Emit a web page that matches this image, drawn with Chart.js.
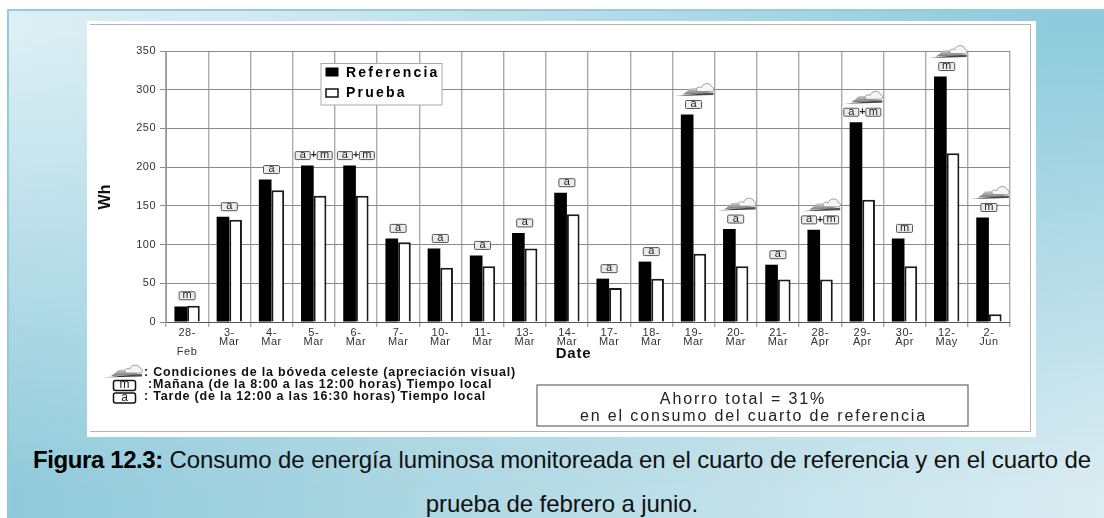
<!DOCTYPE html>
<html>
<head>
<meta charset="utf-8">
<script src="https://cdn.jsdelivr.net/npm/chart.js@4"></script>
<style>
  html, body { margin: 0; padding: 0; background: #fff; }
  body { position: relative; width: 1104px; height: 518px; overflow: hidden; font-family: "Liberation Sans", Arial, sans-serif; }
  .bg { position: absolute; left: 7px; top: 9px; right: 0; bottom: 0; }
  .bg.bottom { background: linear-gradient(to right, #8fcadb, #a6d4e1 30%, #dcedf3); }
  .bg.top { background: linear-gradient(to right, #dcEff4, #d4eaf1 20%, #8fcbdc 95%);
    -webkit-mask-image: linear-gradient(to bottom, #000 5%, transparent 95%); mask-image: linear-gradient(to bottom, #000 5%, transparent 95%); }
  .edge { position: absolute; left: 7px; top: 9px; right: 0; bottom: 0; border-top: 2px solid #93cdd9; border-left: 2px solid #93cdd9; }
  .panel { position: absolute; left: 87px; top: 21px; width: 946px; height: 413px; background: #fff; box-sizing: border-box; border: 3px solid #fff; }
  .panel::after { content: ""; position: absolute; left: -1px; top: 0; right: -1px; bottom: -1px; border: 1.5px solid #b4b4b4; }
  canvas { position: absolute; left: 0; top: 0; filter: blur(0.4px); }
  .caption { position: absolute; left: 7px; width: 1110px; text-align: center; font-size: 24px; line-height: 28px; color: #111; white-space: nowrap; letter-spacing: -0.1px; }
  .caption b { color: #000; letter-spacing: -0.4px; }
</style>
</head>
<body>
<div class="bg bottom"></div>
<div class="bg top"></div>
<div class="edge"></div>
<div class="panel"></div>
<div style="position:absolute;left:87px;top:21px;width:949px;height:416px;box-sizing:border-box;border:3px solid #fff;"></div>
<canvas id="consumoChart" width="1104" height="440"></canvas>
<div class="caption" style="top:446px"><b>Figura 12.3:</b> Consumo de energía luminosa monitoreada en el cuarto de referencia y en el cuarto de</div>
<div class="caption" style="top:490px">prueba de febrero a junio.</div>

<script>
const fechas = [["28-", " ", "Feb"], ["3-", "Mar"], ["4-", "Mar"], ["5-", "Mar"], ["6-", "Mar"], ["7-", "Mar"], ["10-", "Mar"],
  ["11-", "Mar"], ["13-", "Mar"], ["14-", "Mar"], ["17-", "Mar"], ["18-", "Mar"], ["19-", "Mar"], ["20-", "Mar"],
  ["21-", "Mar"], ["28-", "Apr"], ["29-", "Apr"], ["30-", "Apr"], ["12-", "May"], ["2-", "Jun"]];
const referencia = [20, 136, 184, 202, 202, 108, 95, 86, 115, 167, 56, 78, 268, 120, 74, 119, 258, 108, 317, 135];
const prueba = [21, 132, 170, 163, 163, 103, 70, 72, 95, 139, 44, 56, 88, 72, 55, 55, 158, 72, 218, 10];
const periodos = ["m", "a", "a", "a+m", "a+m", "a", "a", "a", "a", "a", "a", "a", "a", "a", "a", "a+m", "a+m", "m", "m", "m"];
const nublado = [0, 0, 0, 0, 0, 0, 0, 0, 0, 0, 0, 0, 1, 1, 0, 1, 1, 0, 1, 1];
const yTicks = [0, 50, 100, 150, 200, 250, 300, 350];
const notas = [": Condiciones de la bóveda celeste (apreciación visual)",
  ":Mañana (de la 8:00 a las 12:00 horas) Tiempo local",
  ": Tarde (de la 12:00 a las 16:30 horas) Tiempo local"];
const ahorro = ["Ahorro total = 31%", "en el consumo del cuarto de referencia"];

function badge(ctx, x, y, txt, w) {
  const h = 8;
  ctx.font = "11px 'Liberation Sans'";
  ctx.textAlign = "center";
  ctx.textBaseline = "middle";
  ctx.lineWidth = 1;
  ctx.strokeStyle = "#555";
  ctx.fillStyle = "#ececec";
  ctx.beginPath();
  ctx.roundRect(x - w / 2, y - h / 2, w, h, 1);
  ctx.fill();
  ctx.stroke();
  ctx.fillStyle = "#222";
  ctx.fillText(txt, x, y - 0.5);
}

function nube(ctx, x, y) {
  // loma
  let g = ctx.createLinearGradient(0, y - 3, 0, y + 5);
  g.addColorStop(0, "#e4e4e4");
  g.addColorStop(1, "#777");
  ctx.fillStyle = g;
  ctx.beginPath();
  ctx.moveTo(x - 11, y + 5);
  ctx.quadraticCurveTo(x - 6, y + 2, x - 4, y - 1);
  ctx.quadraticCurveTo(x + 1, y - 2, x + 4, y - 1);
  ctx.lineTo(x + 19, y + 4);
  ctx.closePath();
  ctx.fill();
  // nube
  ctx.fillStyle = "#f6f6f6";
  ctx.strokeStyle = "#888";
  ctx.lineWidth = 0.8;
  ctx.beginPath();
  ctx.moveTo(x + 4, y + 2);
  ctx.bezierCurveTo(x + 1, y - 2, x + 5, y - 3, x + 8, y - 2);
  ctx.bezierCurveTo(x + 9, y - 7, x + 17, y - 7, x + 18, y - 3);
  ctx.bezierCurveTo(x + 21, y - 2, x + 21, y + 2, x + 18, y + 2);
  ctx.closePath();
  ctx.fill();
  ctx.stroke();
  // linea base
  let b = ctx.createLinearGradient(x - 19, 0, x + 20, 0);
  b.addColorStop(0, "#888");
  b.addColorStop(0.4, "#333");
  b.addColorStop(1, "#555");
  ctx.fillStyle = b;
  ctx.beginPath();
  ctx.moveTo(x - 19, y + 6.5);
  ctx.lineTo(x + 20, y + 3);
  ctx.lineTo(x + 20, y + 5.5);
  ctx.closePath();
  ctx.fill();
}

const anotaciones = {
  id: "anotaciones",
  beforeDraw(chart) {
    // letterSpacing stays for the tick labels, the source text is wide
    chart.ctx.letterSpacing = "0.5px";
  },
  afterDatasetsDraw(chart) {
    const ctx = chart.ctx;
    const xs = chart.scales.x, ys = chart.scales.y;
    ctx.save();
    ctx.letterSpacing = "0px";
    fechas.forEach((f, i) => {
      const x = xs.getPixelForValue(i);
      const y = ys.getPixelForValue(Math.max(referencia[i], prueba[i])) - 10;
      if (periodos[i] === "a+m") {
        badge(ctx, x - 11, y, "a", 15);
        badge(ctx, x + 11, y, "m", 15);
        ctx.fillStyle = "#222";
        ctx.font = "bold 10px 'Liberation Sans'";
        ctx.fillText("+", x, y);
      } else {
        badge(ctx, x, y, periodos[i], 16);
      }
      if (nublado[i]) nube(ctx, x, y - 15);
    });

    // leyenda
    ctx.fillStyle = "#fff";
    ctx.strokeStyle = "#aaa";
    ctx.lineWidth = 1;
    ctx.fillRect(321, 63.5, 121, 41.5);
    ctx.strokeRect(321, 63.5, 121, 41.5);
    ctx.fillStyle = "#000";
    ctx.fillRect(325.5, 67.5, 13, 9);
    ctx.fillStyle = "#fff";
    ctx.strokeStyle = "#111";
    ctx.lineWidth = 1.5;
    ctx.fillRect(326, 89, 12, 8);
    ctx.strokeRect(326, 89, 12, 8);
    ctx.fillStyle = "#000";
    ctx.font = "bold 14px 'Liberation Sans'";
    ctx.letterSpacing = "2.2px";
    ctx.textAlign = "left";
    ctx.textBaseline = "middle";
    ctx.fillText(chart.data.datasets[0].label, 346, 73.5);
    ctx.fillText(chart.data.datasets[1].label, 346, 93.5);

    // titulos de ejes
    ctx.letterSpacing = "0.8px";
    ctx.font = "bold 15px 'Liberation Sans'";
    ctx.fillStyle = "#111";
    ctx.textAlign = "center";
    ctx.fillText("Date", 573.5, 354);
    ctx.save();
    ctx.translate(106, 197);
    ctx.rotate(-Math.PI / 2);
    ctx.letterSpacing = "0px";
    ctx.font = "bold 16px 'Liberation Sans'";
    ctx.fillText("Wh", 0, 0);
    ctx.restore();

    // notas abajo
    ctx.textAlign = "left";
    ctx.font = "bold 12.5px 'Liberation Sans'";
    ctx.letterSpacing = "0.8px";
    ctx.fillStyle = "#111";
    ctx.fillText(notas[0], 144, 373);
    ctx.fillText(notas[1], 148, 385);
    ctx.fillText(notas[2], 144, 397);
    nube(ctx, 122, 371);
    ctx.letterSpacing = "0px";
    ctx.strokeStyle = "#111";
    ctx.lineWidth = 1.5;
    ctx.fillStyle = "#fff";
    ["m", "a"].forEach((t, i) => {
      const yy = 380.5 + i * 12.5;
      ctx.beginPath();
      ctx.roundRect(113.5, yy, 22, 10, 2);
      ctx.fill();
      ctx.stroke();
      ctx.fillStyle = "#222";
      ctx.font = "12px 'Liberation Sans'";
      ctx.textAlign = "center";
      ctx.fillText(t, 124.5, yy + 4.5);
      ctx.fillStyle = "#fff";
    });

    // recuadro ahorro
    ctx.strokeStyle = "#666";
    ctx.lineWidth = 1.2;
    ctx.strokeRect(537, 385, 431, 41);
    ctx.fillStyle = "#222";
    ctx.font = "16px 'Liberation Sans'";
    ctx.letterSpacing = "1.85px";
    ctx.textAlign = "center";
    ctx.fillText(ahorro[0], 743, 400);
    ctx.fillText(ahorro[1], 753.5, 417);
    ctx.restore();
  }
};

new Chart(document.getElementById("consumoChart"), {
  type: "bar",
  data: {
    labels: fechas,
    datasets: [
      { label: "Referencia", data: referencia, backgroundColor: "#000", borderColor: "#000", borderWidth: 0 },
      { label: "Prueba", data: prueba, backgroundColor: "#fff", borderColor: "#1a1a1a", borderWidth: 2 }
    ]
  },
  options: {
    responsive: false,
    animation: false,
    layout: { padding: { left: 96, right: 94, top: 51, bottom: 0 } },
    plugins: { legend: { display: false }, tooltip: { enabled: false } },
    datasets: { bar: { categoryPercentage: 0.6, barPercentage: 1 } },
    scales: {
      x: {
        grid: { color: "#ababab", lineWidth: 1.4, tickLength: 5, drawTicks: true },
        border: { color: "#555", width: 1 },
        ticks: { autoSkip: false, maxRotation: 0, minRotation: 0, padding: 1, color: "#333",
          font: { family: "'Liberation Sans'", size: 11, lineHeight: 0.86 } },
        afterFit(s) { s.height = 118; }
      },
      y: {
        min: 0,
        max: 350,
        afterBuildTicks(s) { s.ticks = yTicks.map(v => ({ value: v })); },
        grid: { color: "#8a8a8a", lineWidth: 1, tickLength: 6 },
        border: { color: "#999", width: 1 },
        ticks: { padding: 4, color: "#333", font: { family: "'Liberation Sans'", size: 11 } },
        afterFit(s) { s.width = 70; }
      }
    }
  },
  plugins: [anotaciones]
});
</script>
</body>
</html>
